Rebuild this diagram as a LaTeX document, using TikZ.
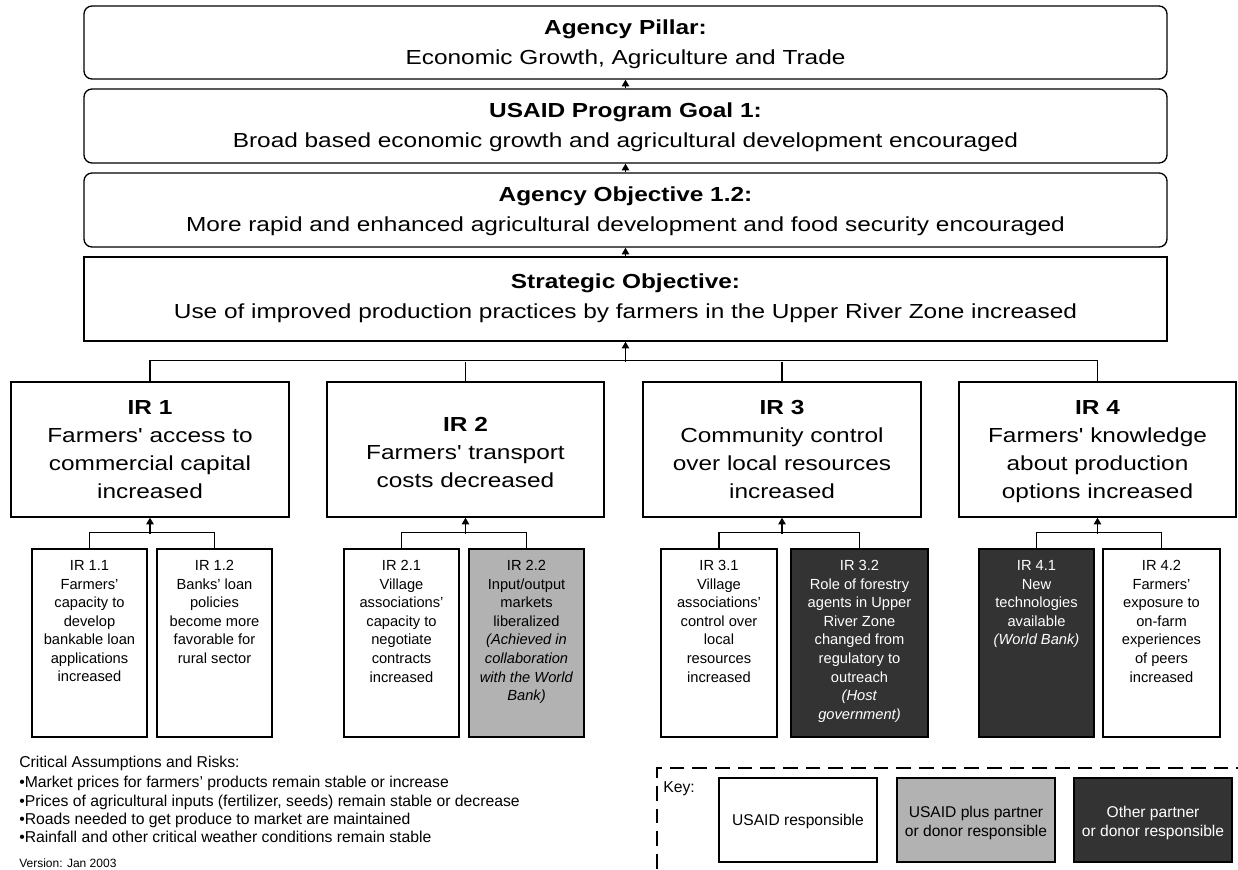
\documentclass[tikz,border=0pt]{standalone}
\usepackage{fontspec}
\setmainfont{Liberation Sans}
\newfontfamily\bigf{Liberation Sans}[FakeStretch=1.2]
\usetikzlibrary{fit,calc,arrows.meta}
\definecolor{midgray}{HTML}{B2B2B2}
\definecolor{darkfill}{HTML}{333333}
\begin{document}
\begin{tikzpicture}[x=0.75pt,y=-0.75pt,
  frame/.style={draw=black,line width=1pt,inner sep=0pt},
  topbox/.style={frame,rounded corners=6pt,fit={#1}},
  plainbox/.style={frame,fit={#1}},
  graybox/.style={frame,fit={#1},fill=midgray},
  darkbox/.style={frame,fit={#1},fill=darkfill},
  toptxt/.style={anchor=north,inner sep=0pt,align=center,font=\bigf\fontsize{15.25}{22.5}\selectfont},
  irtxt/.style={anchor=north,inner sep=0pt,align=center,font=\bigf\fontsize{15.25}{21}\selectfont},
  subtxt/.style={anchor=north,inner sep=0pt,align=center,font=\fontsize{11}{13.9}\selectfont},
  keytxt/.style={inner sep=0pt,align=center,font=\fontsize{11.7}{14.25}\selectfont},
  note/.style={anchor=base west,inner sep=0pt,font=\fontsize{11.8}{14}\selectfont},
  conn/.style={line width=1pt},
  arr/.style={line width=1pt,-{Triangle[width=5.5pt,length=5pt]}},
  keyframe/.style={draw=black,line width=1pt,dash pattern=on 11pt off 6pt,inner sep=0pt,fit={#1}}
]
\useasboundingbox (0,0) rectangle (1238,869);
\fill[white] (0,0) rectangle (1238,869);

% top boxes
\node[topbox={(84,6) (1167,79)}] (p1) {};
\node[topbox={(84,89) (1167,163)}] (p2) {};
\node[topbox={(84,173) (1167,247)}] (p3) {};
\node[plainbox={(84,257) (1167,341)}] (so) {};
\node[toptxt] (p1t) at ($(p1.north)+(0,14)$) {\textbf{Agency Pillar:}\\Economic Growth, Agriculture and Trade};
\node[toptxt] (p2t) at ($(p2.north)+(0,14)$) {\textbf{USAID Program Goal 1:}\\Broad based economic growth and agricultural development encouraged};
\node[toptxt] (p3t) at ($(p3.north)+(0,14.5)$) {\textbf{Agency Objective 1.2:}\\More rapid and enhanced agricultural development and food security encouraged};
\node[toptxt] (sot) at ($(so.north)+(0,17)$) {\textbf{Strategic Objective:}\\Use of improved production practices by farmers in the Upper River Zone increased};

\draw[arr] (p2) -- (p1);
\draw[arr] (p3) -- (p2);
\draw[arr] (so) -- (p3);

% IR boxes
\node[plainbox={(11,382) (289,517)}] (ir1) {};
\node[plainbox={(327,382) (604,517)}] (ir2) {};
\node[plainbox={(643,382) (921,517)}] (ir3) {};
\node[plainbox={(959,382) (1236,517)}] (ir4) {};
\node[irtxt] (ir1t) at ($(ir1.north)+(0,18.5)$) {\textbf{IR 1}\\Farmers' access to\\commercial capital\\increased};
\node[irtxt] (ir2t) at ($(ir2.north)+(0,36)$) {\textbf{IR 2}\\Farmers' transport\\costs decreased};
\node[irtxt] (ir3t) at ($(ir3.north)+(0,18.5)$) {\textbf{IR 3}\\Community control\\over local resources\\increased};
\node[irtxt] (ir4t) at ($(ir4.north)+(0,18.5)$) {\textbf{IR 4}\\Farmers' knowledge\\about production\\options increased};

\coordinate (bus) at ($(so.south)+(0,20)$);
\draw[conn] (ir1.north) -- ++(0,-21) -| (ir4.north);
\draw[conn] (ir2.north) -- (ir2.north |- bus);
\draw[conn] (ir3.north) -- (ir3.north |- bus);
\draw[arr] (bus) -- (so);

% sub boxes
\node[plainbox={(32,549) (147,737)}] (s11) {};
\node[plainbox={(157,549) (272,737)}] (s12) {};
\node[plainbox={(344,549) (459,737)}] (s21) {};
\node[graybox={(469,549) (584,737)}] (s22) {};
\node[plainbox={(661,549) (777,737)}] (s31) {};
\node[darkbox={(791,549) (928,737)}] (s32) {};
\node[darkbox={(979,549) (1094,737)}] (s41) {};
\node[plainbox={(1103,549) (1220,737)}] (s42) {};

\node[subtxt] (t11) at ($(s11.north)+(0,12)$) {IR 1.1\\Farmers'\\capacity to\\develop\\bankable loan\\applications\\increased};
\node[subtxt] (t12) at ($(s12.north)+(0,12)$) {IR 1.2\\Banks' loan\\policies\\become more\\favorable for\\rural sector};
\node[subtxt] (t21) at ($(s21.north)+(0,12)$) {IR 2.1\\Village\\associations'\\capacity to\\negotiate\\contracts\\increased};
\node[subtxt] (t22) at ($(s22.north)+(0,12)$) {IR 2.2\\Input/output\\markets\\liberalized\\\textit{(Achieved in}\\\textit{collaboration}\\\textit{with the World}\\\textit{Bank)}};
\node[subtxt] (t31) at ($(s31.north)+(0,12)$) {IR 3.1\\Village\\associations'\\control over\\local\\resources\\increased};
\node[subtxt,text=white] (t32) at ($(s32.north)+(0,12)$) {IR 3.2\\Role of forestry\\agents in Upper\\River Zone\\changed from\\regulatory to\\outreach\\\textit{(Host}\\\textit{government)}};
\node[subtxt,text=white] (t41) at ($(s41.north)+(0,12)$) {IR 4.1\\New\\technologies\\available\\\textit{(World Bank)}};
\node[subtxt] (t42) at ($(s42.north)+(0,12)$) {IR 4.2\\Farmers'\\exposure to\\on-farm\\experiences\\of peers\\increased};

% sub connectors
\coordinate (b1) at ($(ir1.south)+(0,16)$);
\coordinate (b2) at ($(ir2.south)+(0,16)$);
\coordinate (b3) at ($(ir3.south)+(0,16)$);
\coordinate (b4) at ($(ir4.south)+(0,16)$);
\draw[conn] (s11.north) -- ++(0,-16) -| (s12.north);
\draw[conn] (s21.north) -- ++(0,-16) -| (s22.north);
\draw[conn] (s31.north) -- ++(0,-16) -| (s32.north);
\draw[conn] (s41.north) -- ++(0,-16) -| (s42.north);
\draw[arr] (b1) -- (ir1);
\draw[arr] (b2) -- (ir2);
\draw[arr] (b3) -- (ir3);
\draw[arr] (b4) -- (ir4);

% assumptions
\node[note] (ca) at (19,767.5) {Critical Assumptions and Risks:};
\node[note] (ca1) at (19,787.5) {•Market prices for farmers' products remain stable or increase};
\node[note] (ca2) at (19,806.5) {•Prices of agricultural inputs (fertilizer, seeds) remain stable or decrease};
\node[note] (ca3) at (19,824.5) {•Roads needed to get produce to market are maintained};
\node[note] (ca4) at (19,842.5) {•Rainfall and other critical weather conditions remain stable};
\node[anchor=base west,inner sep=0pt,font=\fontsize{9}{11}\selectfont] (ver) at (19,867.5) {Version: Jan 2003};

% key
\node[keyframe={(657,768) (1262,900)}] (kf) {};
\node[note] (kl) at (663,792.5) {Key:};
\node[plainbox={(719,778) (877,862)}] (k1) {};
\node[graybox={(897,778) (1055,862)}] (k2) {};
\node[darkbox={(1074,778) (1232,862)}] (k3) {};
\node[keytxt,anchor=base] (k1t) at ($(k1.center)+(0,5.6)$) {USAID responsible};
\node[keytxt,anchor=north] (k2t) at ($(k2.center)+(0,-14.5)$) {USAID plus partner\\or donor responsible};
\node[keytxt,anchor=north,text=white] (k3t) at ($(k3.center)+(0,-14.5)$) {Other partner\\or donor responsible};
\end{tikzpicture}
\end{document}
